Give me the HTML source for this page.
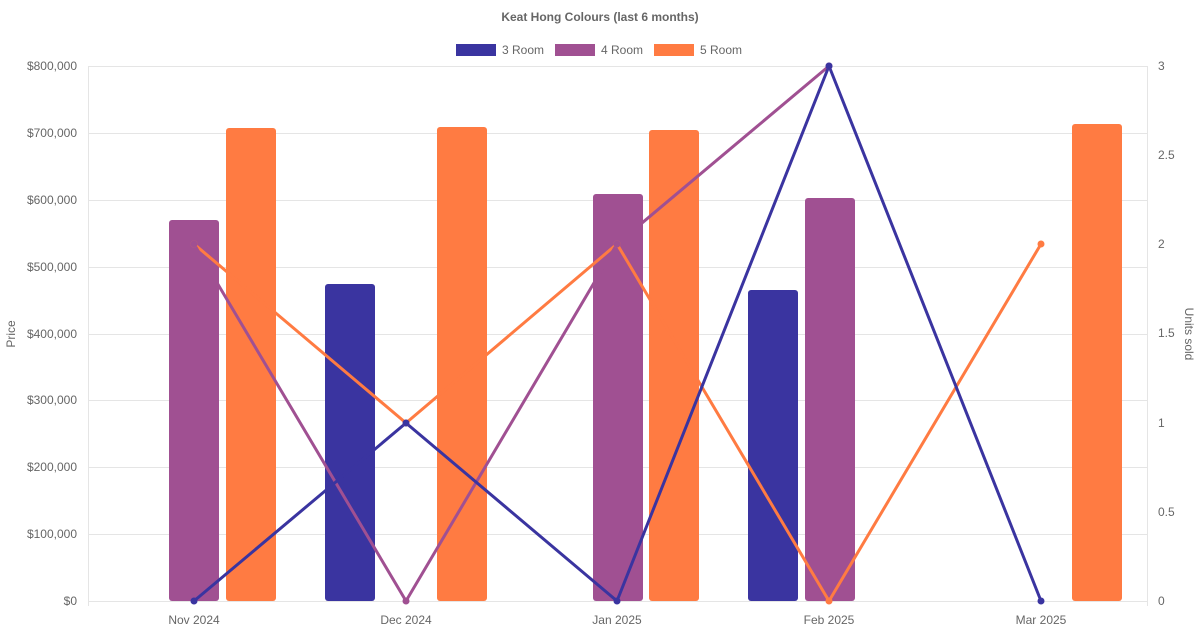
<!DOCTYPE html>
<html><head><meta charset="utf-8"><style>body{margin:0;background:#fff}svg{display:block;font-family:"Liberation Sans",Arial,sans-serif}</style></head><body>
<svg width="1200" height="630" viewBox="0 0 1200 630">
<text x="600" y="21" text-anchor="middle" font-size="12" font-weight="bold" fill="#666">Keat Hong Colours (last 6 months)</text>
<rect x="456" y="44" width="40" height="12" fill="#3a34a0"/><text x="502" y="54" font-size="12" fill="#666">3 Room</text>
<rect x="555" y="44" width="40" height="12" fill="#a05092"/><text x="601" y="54" font-size="12" fill="#666">4 Room</text>
<rect x="654" y="44" width="40" height="12" fill="#ff7b42"/><text x="700" y="54" font-size="12" fill="#666">5 Room</text>
<g stroke="#e5e5e5" stroke-width="1">
<line x1="88" y1="66.5" x2="1147" y2="66.5"/><line x1="88" y1="133.5" x2="1147" y2="133.5"/><line x1="88" y1="200.5" x2="1147" y2="200.5"/><line x1="88" y1="267.5" x2="1147" y2="267.5"/><line x1="88" y1="334.5" x2="1147" y2="334.5"/><line x1="88" y1="400.5" x2="1147" y2="400.5"/><line x1="88" y1="467.5" x2="1147" y2="467.5"/><line x1="88" y1="534.5" x2="1147" y2="534.5"/><line x1="88" y1="601.5" x2="1147" y2="601.5"/>
<line x1="88.5" y1="66" x2="88.5" y2="606"/><line x1="1147.5" y1="66" x2="1147.5" y2="606"/>
</g>
<g font-size="12" fill="#666" text-anchor="end">
<text x="77" y="70">$800,000</text><text x="77" y="137">$700,000</text><text x="77" y="204">$600,000</text><text x="77" y="271">$500,000</text><text x="77" y="338">$400,000</text><text x="77" y="404">$300,000</text><text x="77" y="471">$200,000</text><text x="77" y="538">$100,000</text><text x="77" y="605">$0</text>
</g>
<g font-size="12" fill="#666">
<text x="1158" y="70">3</text><text x="1158" y="159">2.5</text><text x="1158" y="248">2</text><text x="1158" y="337">1.5</text><text x="1158" y="427">1</text><text x="1158" y="516">0.5</text><text x="1158" y="605">0</text>
</g>
<g font-size="12" fill="#666" text-anchor="middle">
<text x="194" y="624">Nov 2024</text><text x="406" y="624">Dec 2024</text><text x="617" y="624">Jan 2025</text><text x="829" y="624">Feb 2025</text><text x="1041" y="624">Mar 2025</text>
</g>
<text transform="translate(15,334) rotate(-90)" font-size="12" fill="#666" text-anchor="middle">Price</text>
<text transform="translate(1185,334) rotate(90)" font-size="12" fill="#666" text-anchor="middle">Units sold</text>
<g>
<rect x="169" y="220" width="50" height="381" rx="3" fill="#a05092"/>
<rect x="226" y="128" width="50" height="473" rx="3" fill="#ff7b42"/>
<rect x="325" y="284" width="50" height="317" rx="3" fill="#3a34a0"/>
<rect x="437" y="127" width="50" height="474" rx="3" fill="#ff7b42"/>
<rect x="593" y="194" width="50" height="407" rx="3" fill="#a05092"/>
<rect x="649" y="130" width="50" height="471" rx="3" fill="#ff7b42"/>
<rect x="748" y="290" width="50" height="311" rx="3" fill="#3a34a0"/>
<rect x="805" y="198" width="50" height="403" rx="3" fill="#a05092"/>
<rect x="1072" y="124" width="50" height="477" rx="3" fill="#ff7b42"/>
</g>
<g fill="none" stroke-width="3" stroke-linejoin="round">
<polyline points="194,244 406,423 617,244 829,601 1041,244" stroke="#ff7b42"/>
<polyline points="194,244 406,601 617,244 829,66" stroke="#a05092"/>
<polyline points="194,601 406,423 617,601 829,66 1041,601" stroke="#3a34a0"/>
</g>
<g fill="#ff7b42"><circle cx="194" cy="244" r="3.5"/><circle cx="406" cy="423" r="3.5"/><circle cx="617" cy="244" r="3.5"/><circle cx="829" cy="601" r="3.5"/><circle cx="1041" cy="244" r="3.5"/></g>
<g fill="#a05092"><circle cx="194" cy="244" r="3.5"/><circle cx="406" cy="601" r="3.5"/><circle cx="617" cy="244" r="3.5"/><circle cx="829" cy="66" r="3.5"/></g>
<g fill="#3a34a0"><circle cx="194" cy="601" r="3.5"/><circle cx="406" cy="423" r="3.5"/><circle cx="617" cy="601" r="3.5"/><circle cx="829" cy="66" r="3.5"/><circle cx="1041" cy="601" r="3.5"/></g>
</svg>
</body></html>
